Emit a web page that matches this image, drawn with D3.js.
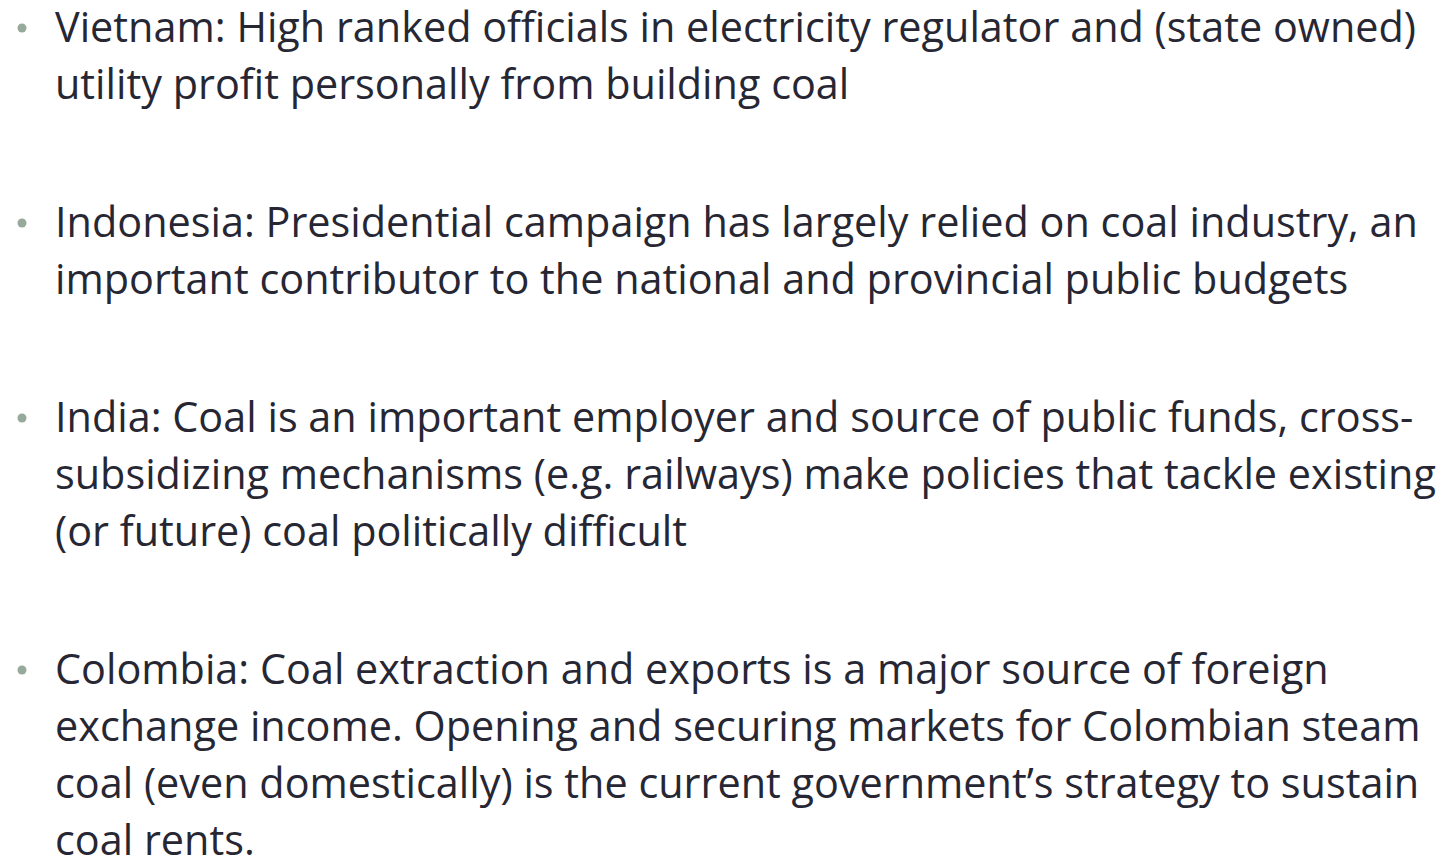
<!DOCTYPE html>
<html>
<head>
<meta charset="utf-8">
<script src="https://cdn.jsdelivr.net/npm/d3@7"></script>
<style>
    body { margin: 0; background: #ffffff; }
    svg { display: block; }
</style>
</head>
<body>
<svg id="slide"></svg>
<script>
// bullet text, one array of wrapped lines per country
var vietnamLines = [
    "Vietnam: High ranked officials in electricity regulator and (state owned)",
    "utility profit personally from building coal"
];
var indonesiaLines = [
    "Indonesia: Presidential campaign has largely relied on coal industry, an",
    "important contributor to the national and provincial public budgets"
];
var indiaLines = [
    "India: Coal is an important employer and source of public funds, cross-",
    "subsidizing mechanisms (e.g. railways) make policies that tackle existing",
    "(or future) coal politically difficult"
];
var colombiaLines = [
    "Colombia: Coal extraction and exports is a major source of foreign",
    "exchange income. Opening and securing markets for Colombian steam",
    "coal (even domestically) is the current government\u2019s strategy to sustain",
    "coal rents."
];
var bullets = [vietnamLines, indonesiaLines, indiaLines, colombiaLines];

var width = 1453, height = 861;
var svg = d3.select('#slide')
    .attr("width", width)
    .attr("height", height);

// flatten lines with running line index and paragraph index
var rows = [];
var k = 0;
bullets.forEach(function (lines, b) {
    lines.forEach(function (t, j) {
        rows.push({ text: t, line: k, para: b, first: j === 0 });
        k++;
    });
});

var lineHeight = 57, paraGap = 81, firstBaseline = 42;
var yScale = d3.scaleLinear()
    .domain([0, 1])
    .range([firstBaseline, firstBaseline + lineHeight]);
function baseline(d) { return yScale(d.line) + d.para * paraGap; }

var textX = 55;
var g = svg.append("g");

var texts = g.selectAll("text")
    .data(rows)
    .enter()
    .append("text")
    .attr("x", 0)
    .attr("y", baseline)
    .attr("font-family", "'Open Sans', 'Noto Sans', sans-serif")
    .attr("font-size", "42px")
    .attr("fill", "#272734")
    .text(function (d) { return d.text; });

// squeeze horizontally so the widest line spans like the reference
var maxW = d3.max(texts.nodes(), function (n) { return n.getComputedTextLength(); });
var targetW = 1381;
var sx = targetW / maxW;
g.attr("transform", "translate(" + textX + ",0) scale(" + sx + ",1)");

// bullets
svg.selectAll("circle")
    .data(rows.filter(function (d) { return d.first; }))
    .enter()
    .append("circle")
    .attr("cx", 22)
    .attr("cy", function (d) { return baseline(d) - 14; })
    .attr("r", 4.5)
    .attr("fill", "#96a99b");
</script>
</body>
</html>
